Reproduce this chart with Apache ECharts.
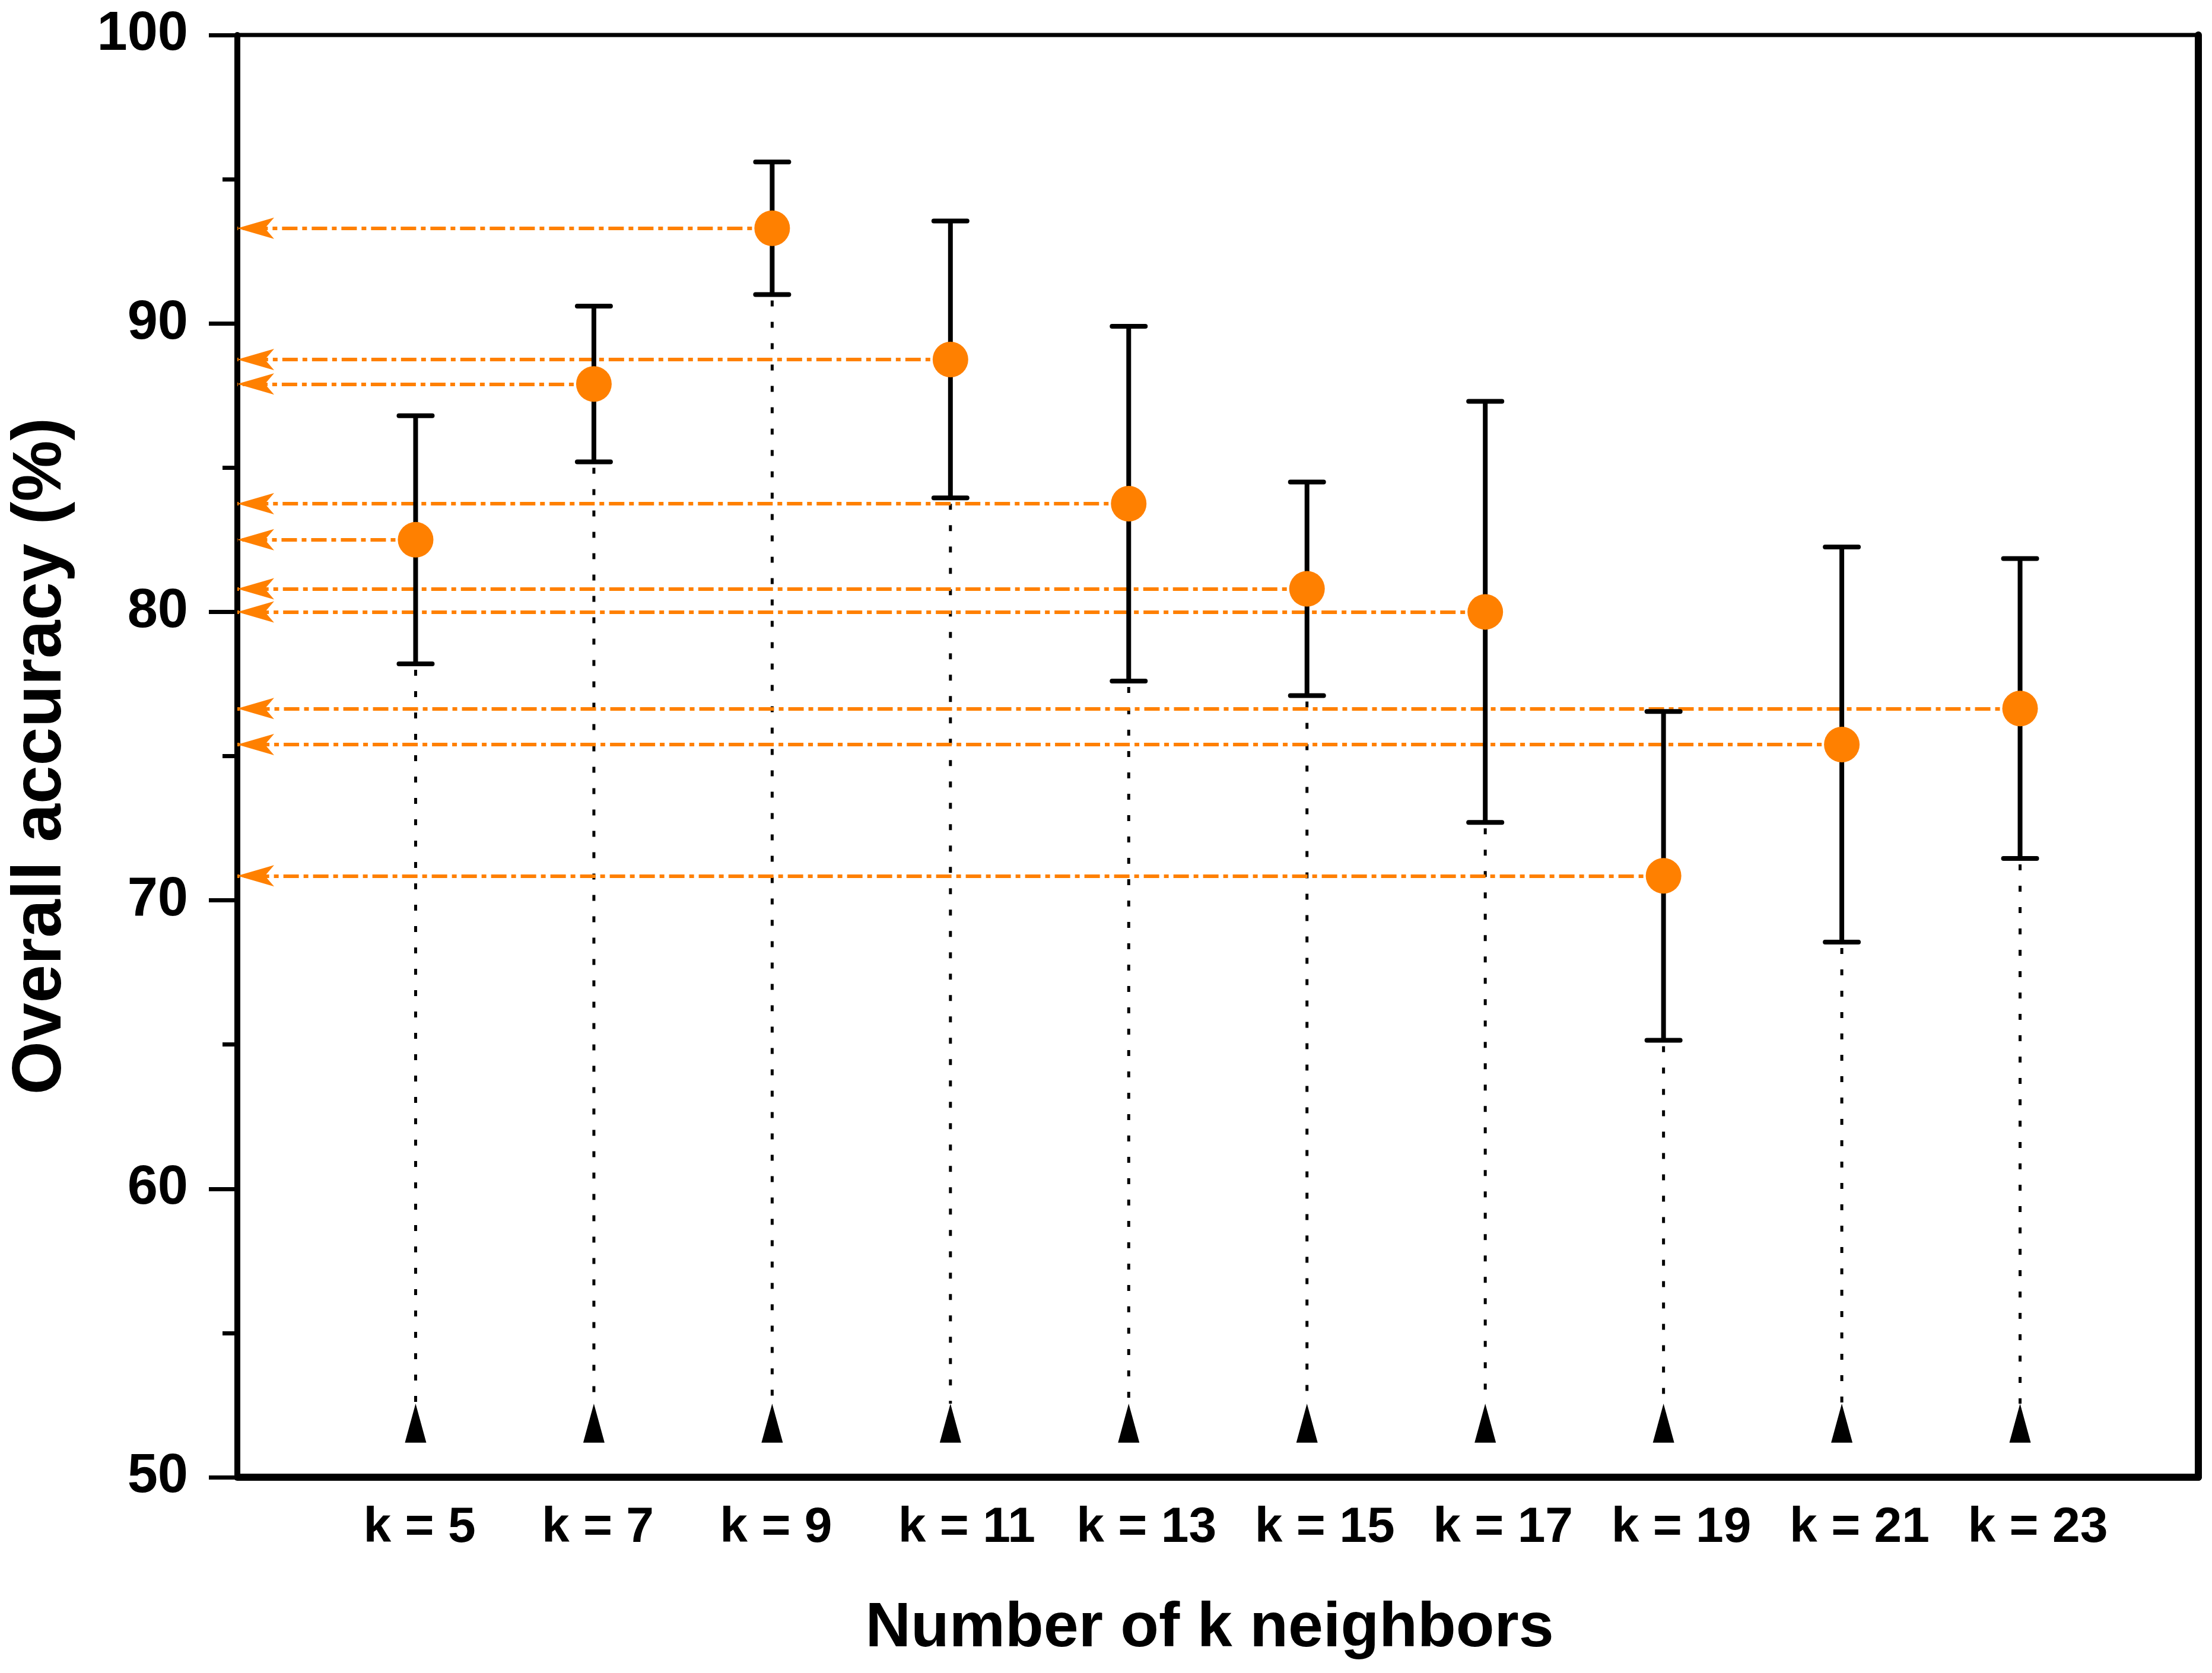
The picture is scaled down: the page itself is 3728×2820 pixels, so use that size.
<!DOCTYPE html>
<html>
<head>
<meta charset="utf-8">
<script src="https://cdn.jsdelivr.net/npm/echarts@6/dist/echarts.min.js"></script>
<style>
html,body{margin:0;padding:0;background:#fff;}
#chart{width:3728px;height:2820px;}
</style>
</head>
<body>
<div id="chart"></div>
<script>
// ---- data ----
const kValues = [5, 7, 9, 11, 13, 15, 17, 19, 21, 23];
const kLabels = ['k = 5', 'k = 7', 'k = 9', 'k = 11', 'k = 13', 'k = 15', 'k = 17', 'k = 19', 'k = 21', 'k = 23'];
const accuracy = [82.5, 87.9, 93.3, 88.75, 83.75, 80.8, 80.0, 70.85, 75.4, 76.65];
const stdDev = [4.3, 2.7, 2.3, 4.8, 6.15, 3.7, 7.3, 5.7, 6.85, 5.2];
const yTicks = [50, 60, 70, 80, 90, 100];

const X_MIN = 3, X_MAX = 25;
const ARROW_BASE = 51.2, ARROW_TOP = 52.55;
const ORANGE = '#FF8000';
const FONT = '"Liberation Sans", Arial, sans-serif';

const rows = kValues.map((k, i) => [k, accuracy[i], stdDev[i]]);

const chart = echarts.init(document.getElementById('chart'), null, {renderer: 'canvas', devicePixelRatio: 1});

const option = {
  animation: false,
  backgroundColor: '#fff',
  grid: {left: 400, right: 23, top: 59, bottom: 330, show: true, borderColor: '#000', borderWidth: 7, backgroundColor: 'transparent'},
  xAxis: {
    type: 'value', min: X_MIN, max: X_MAX,
    name: 'Number of k neighbors', nameLocation: 'middle', nameGap: 203,
    nameTextStyle: {fontFamily: FONT, fontWeight: 'bold', fontSize: 106, color: '#000', lineHeight: 106, padding: [0, 28, 0, 0]},
    axisLine: {show: true, lineStyle: {color: '#000', width: 12}},
    axisTick: {show: false},
    splitLine: {show: false},
    axisLabel: {
      customValues: kValues,
      margin: 44,
      formatter: v => '{k|' + (kLabels[kValues.indexOf(v)] || '') + '}',
      rich: {k: {width: 176, align: 'left', fontFamily: FONT, fontWeight: 'bold', fontSize: 84, lineHeight: 84, color: '#000'}}
    }
  },
  yAxis: [{
    type: 'value', min: yTicks[0], max: yTicks[yTicks.length - 1], interval: 10,
    name: 'Overall accuracy (%)', nameLocation: 'middle', nameGap: 272, nameRotate: 90,
    nameTextStyle: {fontFamily: FONT, fontWeight: 'bold', fontSize: 116, color: '#000', lineHeight: 116},
    axisLine: {show: true, lineStyle: {color: '#000', width: 10}},
    axisTick: {show: true, inside: false, length: 48, lineStyle: {color: '#000', width: 7}},
    minorTick: {show: true, splitNumber: 2, length: 25, lineStyle: {color: '#000', width: 7}},
    splitLine: {show: false},
    axisLabel: {margin: 83, fontFamily: FONT, fontWeight: 'bold', fontSize: 92, color: '#000'}
  }, {
    type: 'value', position: 'right', min: yTicks[0], max: yTicks[yTicks.length - 1],
    axisLine: {show: true, lineStyle: {color: '#000', width: 12}},
    axisTick: {show: false}, axisLabel: {show: false}, splitLine: {show: false}
  }],
  series: [
    {
      // dotted drop lines with triangle markers
      type: 'custom', z: 1, silent: true,
      data: rows,
      encode: {x: 0, y: 1},
      renderItem: function (params, api) {
        const x = api.value(0), m = api.value(1), s = api.value(2);
        const bot = api.coord([x, m - s]);
        const tTop = api.coord([x, ARROW_TOP]);
        const tBase = api.coord([x, ARROW_BASE]);
        return {type: 'group', children: [
          {type: 'line', shape: {x1: bot[0], y1: bot[1] + 10, x2: tTop[0], y2: tTop[1]},
           style: {stroke: '#000', lineWidth: 5, lineDash: [10, 26]}},
          {type: 'polygon', shape: {points: [[tTop[0], tTop[1]], [tBase[0] - 18, tBase[1]], [tBase[0] + 18, tBase[1]]]},
           style: {fill: '#000'}}
        ]};
      }
    },
    {
      // error bars
      type: 'custom', z: 3, silent: true,
      data: rows,
      encode: {x: 0, y: 1},
      renderItem: function (params, api) {
        const x = api.value(0), m = api.value(1), s = api.value(2);
        const top = api.coord([x, m + s]);
        const bot = api.coord([x, m - s]);
        const st = {stroke: '#000', lineWidth: 8, lineCap: 'round'};
        return {type: 'group', children: [
          {type: 'line', shape: {x1: top[0], y1: top[1], x2: bot[0], y2: bot[1]}, style: {stroke: '#000', lineWidth: 8}},
          {type: 'line', shape: {x1: top[0] - 28, y1: top[1], x2: top[0] + 28, y2: top[1]}, style: st},
          {type: 'line', shape: {x1: bot[0] - 28, y1: bot[1], x2: bot[0] + 28, y2: bot[1]}, style: st}
        ]};
      }
    },
    {
      type: 'scatter', z: 4, silent: true,
      data: rows.map(r => [r[0], r[1]]),
      symbol: 'circle', symbolSize: 60,
      itemStyle: {color: ORANGE, opacity: 1},
      markLine: {
        z: 2, silent: true,
        symbol: ['none', 'arrow'],
        symbolSize: [27, 62],
        label: {show: false},
        emphasis: {disabled: true},
        lineStyle: {color: ORANGE, width: 6, type: [26, 8, 8, 8], opacity: 1},
        data: rows.map(r => [{coord: [r[0], r[1]]}, {coord: [X_MIN, r[1]]}])
      }
    }
  ]
};
chart.setOption(option);
</script>
</body>
</html>
